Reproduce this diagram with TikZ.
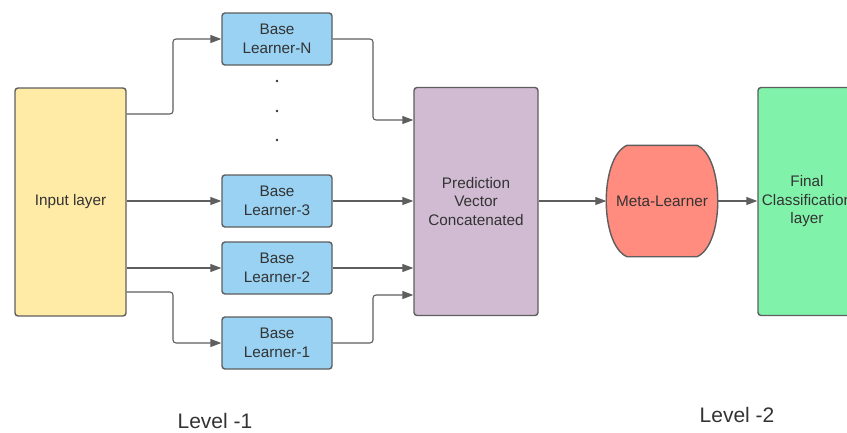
\documentclass[tikz,border=0pt]{standalone}
\usepackage{fontspec}
\setmainfont{Liberation Sans}
\usetikzlibrary{arrows.meta}
\definecolor{strokegray}{HTML}{5E5E5E}
\definecolor{textgray}{HTML}{333333}
\definecolor{inputfill}{HTML}{FFEAA6}
\definecolor{learnerfill}{HTML}{99D2F3}
\definecolor{predfill}{HTML}{D1BBD3}
\definecolor{metafill}{HTML}{FF8C7E}
\definecolor{finalfill}{HTML}{80F2AA}
\tikzset{
  block/.style={draw=strokegray, line width=1.4pt, rounded corners=3pt,
    text=textgray, align=center, inner sep=0pt, font=\fontsize{15.3}{18.5}\selectfont},
  learner/.style={block, fill=learnerfill, minimum width=110pt, minimum height=52pt},
  tall/.style={block, minimum height=228pt},
  link/.style={draw=strokegray, line width=1.1pt, rounded corners=3pt,
    -{Triangle[length=11pt,width=8pt]}},
  dotmark/.style={circle, fill=textgray, inner sep=0pt, minimum size=2.6pt},
  levellabel/.style={text=textgray, font=\fontsize{21}{24}\selectfont}
}
\begin{document}
\begin{tikzpicture}[x=1pt,y=-1pt]
\useasboundingbox (0,0) rectangle (847,432);
\clip (0,0) rectangle (847,432);

% left column: input and base learners
\node[tall, fill=inputfill, minimum width=111pt] (input) at (70.5,202) {Input layer};
\node[learner] (bN) at (277,39) {Base\\Learner-N};
\node[learner] (b3) at (277,201) {Base\\Learner-3};
\node[learner] (b2) at (277,268) {Base\\Learner-2};
\node[learner] (b1) at (277,343) {Base\\Learner-1};
\node[dotmark] (d1) at (277,81) {};
\node[dotmark] (d2) at (277,111) {};
\node[dotmark] (d3) at (277,140) {};

% concatenation, meta-learner and output
\node[tall, fill=predfill, minimum width=124pt] (pred) at (476,201.5) {Prediction\\Vector\\Concatenated};
\node[block, draw=none, minimum width=110pt, minimum height=110pt] (meta) at (662,201) {};
\node[tall, fill=finalfill, minimum width=98pt] (final) at (807,201.5) {Final\\Classification\\layer};

% barrel outline of the meta-learner
\path[fill=metafill, draw=strokegray, line width=1.4pt]
  ([xshift=-35pt]meta.north) -- ([xshift=35pt]meta.north)
  .. controls ([xshift=7pt,yshift=-12pt]meta.north east) and ([xshift=7pt,yshift=12pt]meta.south east) .. ([xshift=35pt]meta.south)
  -- ([xshift=-35pt]meta.south)
  .. controls ([xshift=-7pt,yshift=12pt]meta.south west) and ([xshift=-7pt,yshift=-12pt]meta.north west) .. cycle;
\node[text=textgray, font=\fontsize{15.3}{18}\selectfont] (metatext) at (meta.center) {Meta-Learner};

% input to base learners
\draw[link] (input.east |- 0,114) -| (173,76) |- (bN.west);
\draw[link] (input.east |- b3.west) -- (b3.west);
\draw[link] (input.east |- b2.west) -- (b2.west);
\draw[link] (input.east |- 0,292) -| (173,318) |- (b1.west);

% base learners to concatenation
\draw[link] (bN.east) -| (373,80) |- (pred.west |- 0,120);
\draw[link] (b3.east) -- (pred.west |- b3.east);
\draw[link] (b2.east) -- (pred.west |- b2.east);
\draw[link] (b1.east) -| (373,320) |- (pred.west |- 0,295);

% second level
\draw[link] (pred.east |- meta.west) -- (meta.west);
\draw[link] (meta.east) -- (final.west |- meta.east);

\node[levellabel] (lv1) at (215,421) {Level -1};
\node[levellabel] (lv2) at (737,415) {Level -2};
\end{tikzpicture}
\end{document}
